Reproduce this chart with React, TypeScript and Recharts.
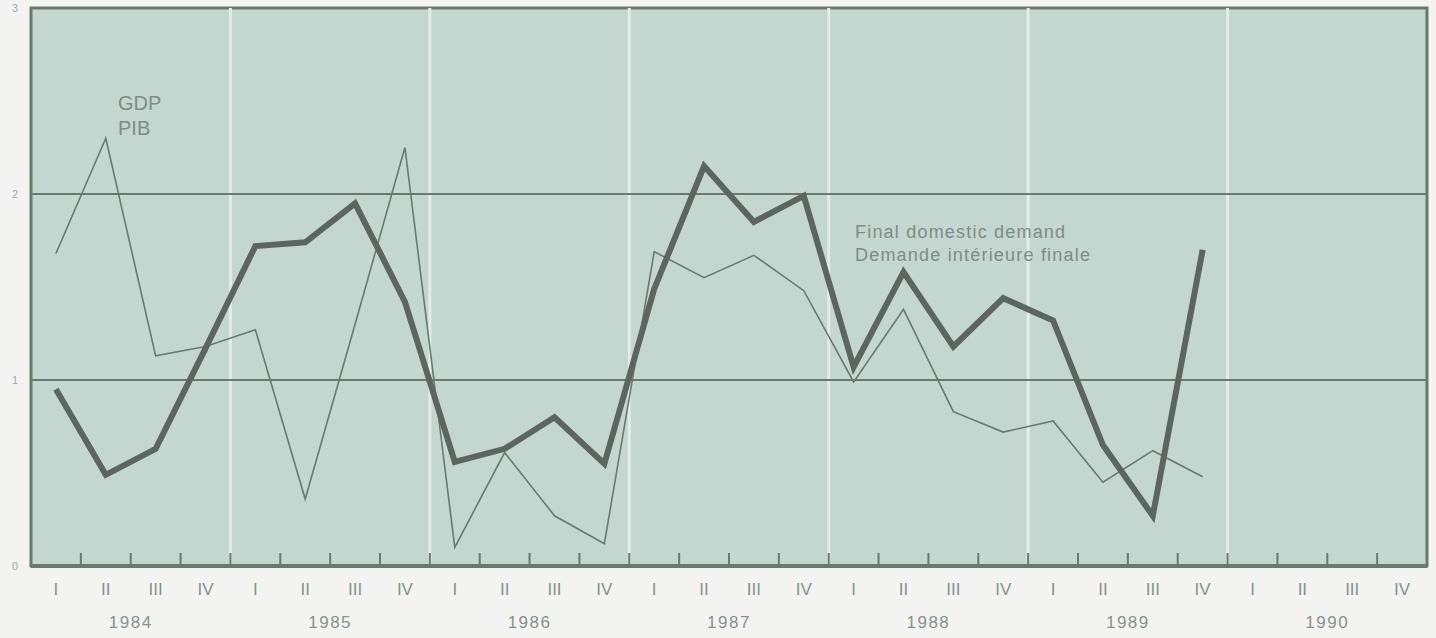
import {
    LineChart,
    Line,
    XAxis,
    YAxis,
    CartesianGrid,
    ReferenceLine,
    ReferenceArea,
} from 'recharts';

const years = [1984, 1985, 1986, 1987, 1988, 1989, 1990];
const quarterNames = ['I', 'II', 'III', 'IV'];
const yTicks = [0, 1, 2, 3];
const gridValues = [1, 2];

// quarterly % change, 1984 I .. 1989 IV
const gdp = [
    1.68, 2.3, 1.13, 1.18,
    1.27, 0.36, 1.3, 2.25,
    0.1, 0.61, 0.27, 0.12,
    1.69, 1.55, 1.67, 1.48,
    0.99, 1.38, 0.83, 0.72,
    0.78, 0.45, 0.62, 0.48,
];
const demand = [
    0.95, 0.49, 0.63, 1.17,
    1.72, 1.74, 1.95, 1.42,
    0.56, 0.63, 0.8, 0.55,
    1.49, 2.15, 1.85, 1.99,
    1.07, 1.58, 1.18, 1.44,
    1.32, 0.65, 0.27, 1.7,
];

const nQ = years.length * quarterNames.length;
const data = gdp.map((v, i) => ({ q: i + 0.5, gdp: v, demand: demand[i] }));
const quarterTicks = Array.from({ length: nQ }, (_, i) => i + 0.5);
const boundaryTicks = Array.from({ length: nQ - 1 }, (_, i) => i + 1);
const yearTicks = years.map((_, i) => i * 4 + 2);
const yearLines = years.slice(1).map((_, i) => (i + 1) * 4);

const FONT = '"Liberation Sans", Arial, sans-serif';
const BG = '#c4d6d0';
const BORDER = '#6a786e';
const TEXT = '#86928b';
const TICK_LEN = 0.07; // short upward tick marks, in value units

export default function App() {
    return (
        <div
            style={{
                position: 'absolute',
                left: 0,
                top: 0,
                width: 1436,
                height: 638,
                background: '#f3f4f2',
                fontFamily: FONT,
            }}
        >
            <LineChart
                width={1436}
                height={638}
                data={data}
                margin={{ top: 8, right: 9, left: 0, bottom: 0 }}
            >
                <CartesianGrid xAxisId="b" horizontal={false} vertical={false} fill={BG} />
                <XAxis
                    xAxisId="b"
                    dataKey="q"
                    type="number"
                    domain={[0, nQ]}
                    ticks={boundaryTicks}
                    interval={0}
                    tick={false}
                    tickLine={false}
                    height={1}
                    axisLine={{ stroke: BORDER, strokeWidth: 4 }}
                />
                <XAxis
                    xAxisId="q"
                    dataKey="q"
                    type="number"
                    domain={[0, nQ]}
                    ticks={quarterTicks}
                    interval={0}
                    tickFormatter={(v: number) => quarterNames[Math.floor(v) % 4]}
                    axisLine={false}
                    tickLine={false}
                    tickSize={0}
                    tickMargin={16}
                    height={36}
                    tick={{ fill: TEXT, fontSize: 17, fontFamily: FONT }}
                />
                <XAxis
                    xAxisId="y"
                    dataKey="q"
                    type="number"
                    domain={[0, nQ]}
                    ticks={yearTicks}
                    interval={0}
                    tickFormatter={(v: number) => String(years[Math.floor(v / 4)])}
                    axisLine={false}
                    tickLine={false}
                    tickSize={0}
                    tickMargin={13}
                    height={35}
                    tick={{ fill: TEXT, fontSize: 17, fontFamily: FONT, letterSpacing: 1.5 }}
                />
                <YAxis
                    width={31}
                    domain={[0, 3]}
                    ticks={yTicks}
                    interval={0}
                    axisLine={false}
                    tickLine={false}
                    tickSize={0}
                    tickMargin={13}
                    tick={{ fill: '#a3aba6', fontSize: 11, fontFamily: FONT }}
                />
                {yearLines.map((x) => (
                    <ReferenceLine key={x} xAxisId="b" x={x} stroke="#e2ece8" strokeWidth={3} />
                ))}
                {gridValues.map((y) => (
                    <ReferenceLine key={y} xAxisId="b" y={y} stroke={BORDER} strokeWidth={2} />
                ))}
                {boundaryTicks.map((x) => (
                    <ReferenceLine
                        key={'t' + x}
                        xAxisId="b"
                        segment={[
                            { x, y: 0 },
                            { x, y: TICK_LEN },
                        ]}
                        stroke={BORDER}
                        strokeWidth={2}
                    />
                ))}
                <ReferenceArea
                    xAxisId="b"
                    x1={0}
                    x2={nQ}
                    y1={0}
                    y2={3}
                    fill="none"
                    fillOpacity={0}
                    stroke={BORDER}
                    strokeWidth={3}
                />
                <Line
                    xAxisId="b"
                    type="linear"
                    dataKey="gdp"
                    stroke="#687a6f"
                    strokeWidth={1.6}
                    dot={false}
                    isAnimationActive={false}
                />
                <Line
                    xAxisId="b"
                    type="linear"
                    dataKey="demand"
                    stroke="#5c6660"
                    strokeWidth={6}
                    strokeLinejoin="miter"
                    dot={false}
                    isAnimationActive={false}
                />
            </LineChart>
            <div
                style={{
                    position: 'absolute',
                    left: 118,
                    top: 91,
                    fontSize: 20,
                    lineHeight: '25px',
                    color: '#7f8c85',
                }}
            >
                GDP
                <br />
                PIB
            </div>
            <div
                style={{
                    position: 'absolute',
                    left: 855,
                    top: 221,
                    fontSize: 18,
                    lineHeight: '23px',
                    letterSpacing: 1.2,
                    color: '#7f8c85',
                    whiteSpace: 'nowrap',
                }}
            >
                Final domestic demand
                <br />
                Demande intérieure finale
            </div>
        </div>
    );
}
